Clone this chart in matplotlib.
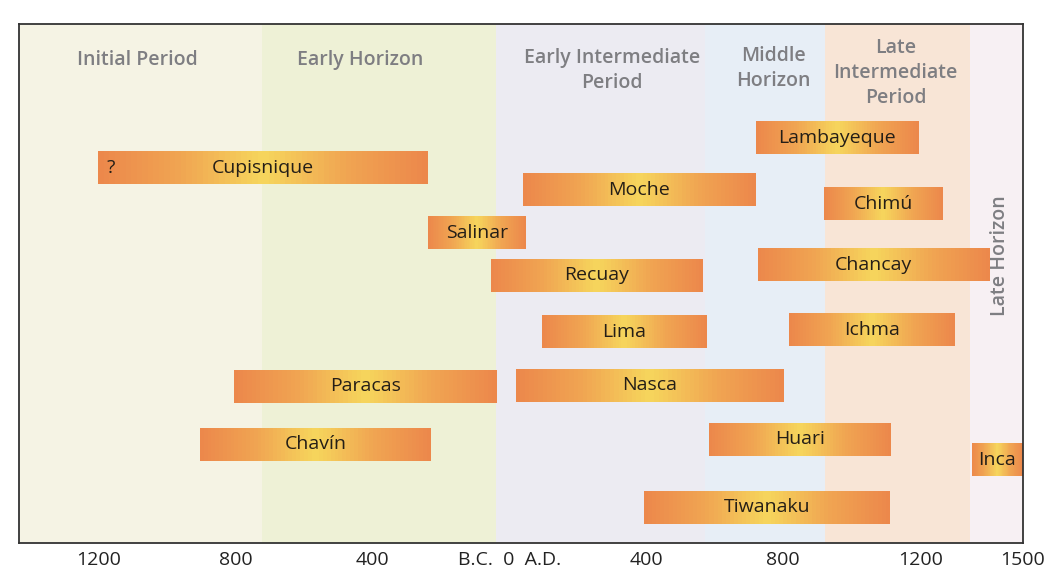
import numpy as np
import matplotlib
matplotlib.use("Agg")
import matplotlib.pyplot as plt
from matplotlib.colors import LinearSegmentedColormap


# ==========================
# DATA
# ==========================

# cultures (years: negative = B.C.)
cultures = [
    "Lambayeque", "Cupisnique", "Moche", "Chimú", "Salinar",
    "Chancay", "Recuay", "Ichma", "Lima", "Nasca",
    "Paracas", "Huari", "Chavín", "Inca", "Tiwanaku",
]
start_year = [720, -1200, 40, 918, -238, 725, -54, 818, 95, 19, -804, 582, -904, 1350, 393]
end_year = [1195, -238, 720, 1265, 48, 1403, 565, 1300, 576, 801, -37, 1114, -229, 1500, 1111]
lane = [3.45, 4.36, 5.02, 5.45, 6.32, 7.30, 7.62, 9.26, 9.32, 10.95, 10.98, 12.59, 12.74, 13.20, 14.64]

# start date uncertain
uncertain = ["Cupisnique"]

periods = [
    "Initial Period", "Early Horizon", "Early Intermediate\nPeriod",
    "Middle\nHorizon", "Late\nIntermediate\nPeriod", "Late Horizon",
]
period_start = [-1432, -723, -40, 570, 921, 1345]
period_end = [-723, -40, 570, 921, 1345, 1500]

tick_years = [-1200, -800, -400, 0, 400, 800, 1200, 1500]
tick_labels = ["1200", "800", "400", "B.C.  0  A.D.", "400", "800", "1200", "1500"]


# ==========================
# STYLE
# ==========================

plt.rcParams["font.family"] = ["Open Sans", "DejaVu Sans"]

period_colors = ["#f5f3e4", "#eef1d6", "#ecebf2", "#e7eef6", "#f8e5d6", "#f7f0f3"]
# small nudges so the period names sit where the original put them
label_shift = [-10, -55, 35, 25, -5, 10]
label_y = [1.09, 1.09, 1.42, 1.36, 1.48, 7.03]

bar_cmap = LinearSegmentedColormap.from_list(
    "bar", ["#ec874b", "#f0a552", "#f6d65c", "#f0a552", "#ec874b"]
)


# ==========================
# FIGURE
# ==========================

fig = plt.figure(figsize=(10.47, 5.74), dpi=100)
ax = fig.add_axes([19 / 1047, 31 / 574, 1004 / 1047, 519 / 574])

ax.set_xlim(-1432, 1500)
ax.set_ylim(15.73, 0)

# period bands
for i, name in enumerate(periods):
    ax.axvspan(period_start[i], period_end[i], color=period_colors[i],
               linewidth=0, zorder=0)
    xc = (period_start[i] + period_end[i]) / 2 + label_shift[i]
    rot = 90 if name == "Late Horizon" else 0
    ax.text(xc, label_y[i], name, ha="center", va="center",
            color="#7e7e82", fontsize=14, fontweight="semibold",
            linespacing=1.32, rotation=rot, zorder=3)

# culture bars, shaded orange -> yellow -> orange
n = 60
frac = np.linspace(0, 1, n + 1)
mid = (frac[:-1] + frac[1:]) / 2

for name, s, e, y in zip(cultures, start_year, end_year, lane):
    edges = s + (e - s) * frac
    ax.barh(np.full(n, y), np.diff(edges), left=edges[:-1], height=1.0,
            color=bar_cmap(mid), linewidth=0, antialiased=False, zorder=2)
    ax.text((s + e) / 2, y, name, ha="center", va="center",
            color="#241e17", fontsize=14, zorder=4)
    if name in uncertain:
        ax.text(s + 24, y, "?", ha="left", va="center",
                color="#241e17", fontsize=14, zorder=4)


# ==========================
# AXES
# ==========================

ax.set_xticks(tick_years, tick_labels)
ax.set_yticks([])
ax.tick_params(axis="x", length=0, pad=6, labelsize=14, labelcolor="#222222")

for sp in ax.spines.values():
    sp.set_linewidth(1.3)
    sp.set_color("#333333")

fig.savefig("out.png", dpi=100, facecolor="white")
